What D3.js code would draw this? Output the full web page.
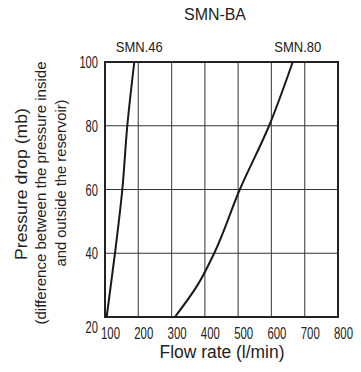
<!DOCTYPE html>
<html>
<head>
<meta charset="utf-8">
<script src="https://cdn.jsdelivr.net/npm/d3@7"></script>
<style>
  body { margin: 0; background: #fff; }
  svg text { font-family: "Liberation Sans", Arial, sans-serif; fill: #222; }
</style>
</head>
<body>
<div id="chart"></div>
<script>
// Flow rate (l/min) vs pressure drop (mb)
const xTicks = [100, 200, 300, 400, 500, 600, 700, 800];
const yTicks = [20, 40, 60, 80, 100];

const smn46Flow = [105, 130, 152, 167, 188];
const smn46Drop = [20, 40, 60, 80, 100];

const smn80Flow = [310, 378, 428, 505, 593, 664];
const smn80Drop = [20, 30, 40, 60, 80, 100];

const title = 'SMN-BA';
const xLabel = 'Flow rate (l/min)';
const yLabelLines = ['Pressure drop (mb)', '(difference between the pressure inside', 'and outside the reservoir)'];

const width = 361, height = 372;
const margin = { top: 62, right: 23, bottom: 55, left: 105 };

const svg = d3.select('#chart')
  .append('svg')
  .attr('width', width)
  .attr('height', height);

const x = d3.scaleLinear().domain([100, 800]).range([margin.left, width - margin.right]);
const y = d3.scaleLinear().domain([20, 100]).range([height - margin.bottom, margin.top]);

// Grid
svg.append('g')
  .selectAll('line')
  .data(xTicks)
  .enter()
  .append('line')
  .attr('x1', d => x(d)).attr('x2', d => x(d))
  .attr('y1', y(20)).attr('y2', y(100))
  .attr('stroke', '#555')
  .attr('stroke-width', 1.2);

svg.append('g')
  .selectAll('line')
  .data(yTicks)
  .enter()
  .append('line')
  .attr('x1', x(100)).attr('x2', x(800))
  .attr('y1', d => y(d)).attr('y2', d => y(d))
  .attr('stroke', '#333')
  .attr('stroke-width', 1.2);

// Frame
svg.append('rect')
  .attr('x', x(100)).attr('y', y(100))
  .attr('width', x(800) - x(100))
  .attr('height', y(20) - y(100))
  .attr('fill', 'none')
  .attr('stroke', '#222')
  .attr('stroke-width', 2);

// Axes (labels only), condensed like the original
const xAxis = svg.append('g')
  .attr('transform', `translate(0,${y(20)})`)
  .call(d3.axisBottom(x).tickValues(xTicks).tickSize(0).tickPadding(11).tickFormat(d3.format('d')));
xAxis.select('.domain').remove();
xAxis.selectAll('text')
  .attr('dx', 5)
  .attr('textLength', 19)
  .attr('lengthAdjust', 'spacingAndGlyphs')
  .style('font-size', '16px');

const yAxis = svg.append('g')
  .attr('transform', `translate(${x(100)},0)`)
  .call(d3.axisLeft(y).tickValues(yTicks).tickSize(0).tickPadding(7).tickFormat(d3.format('d')));
yAxis.select('.domain').remove();
yAxis.selectAll('text')
  .style('font-size', '16px')
  .attr('textLength', d => String(d).length * 6.2)
  .attr('lengthAdjust', 'spacingAndGlyphs')
  .attr('dy', d => d === 20 ? '0.95em' : '0.35em');

// Curves
const line = d3.line()
  .x(d => x(d[0]))
  .y(d => y(d[1]))
  .curve(d3.curveMonotoneY);

const series = [
  { name: 'SMN.46', pts: d3.zip(smn46Flow, smn46Drop) },
  { name: 'SMN.80', pts: d3.zip(smn80Flow, smn80Drop) }
];

svg.append('g')
  .selectAll('path')
  .data(series)
  .enter()
  .append('path')
  .attr('d', d => line(d.pts))
  .attr('fill', 'none')
  .attr('stroke', '#1a1a1a')
  .attr('stroke-width', 2);

// Series labels above the top end of each curve
svg.append('g')
  .selectAll('text')
  .data(series)
  .enter()
  .append('text')
  .attr('x', d => x(d.pts[d.pts.length - 1][0]) + 5)
  .attr('y', y(100) - 10)
  .attr('text-anchor', 'middle')
  .attr('textLength', 47)
  .attr('lengthAdjust', 'spacingAndGlyphs')
  .style('font-size', '14.5px')
  .text(d => d.name);

// Title
svg.append('text')
  .attr('x', 215)
  .attr('y', 20)
  .attr('text-anchor', 'middle')
  .attr('textLength', 62)
  .attr('lengthAdjust', 'spacingAndGlyphs')
  .style('font-size', '16.5px')
  .text(title);

// X label
svg.append('text')
  .attr('x', 222)
  .attr('y', 358)
  .attr('text-anchor', 'middle')
  .attr('textLength', 125)
  .attr('lengthAdjust', 'spacingAndGlyphs')
  .style('font-size', '17.5px')
  .text(xLabel);

// Y label, three rotated lines
const yLines = [
  { text: yLabelLines[0], base: 27, mid: 184, len: 152, size: 16 },
  { text: yLabelLines[1], base: 46, mid: 193, len: 263, size: 15.5 },
  { text: yLabelLines[2], base: 66, mid: 183, len: 167, size: 15.5 }
];
svg.append('g')
  .selectAll('text')
  .data(yLines)
  .enter()
  .append('text')
  .attr('transform', d => `translate(${d.base},${d.mid}) rotate(-90)`)
  .attr('text-anchor', 'middle')
  .attr('textLength', d => d.len)
  .attr('lengthAdjust', 'spacingAndGlyphs')
  .style('font-size', d => d.size + 'px')
  .text(d => d.text);
</script>
</body>
</html>
